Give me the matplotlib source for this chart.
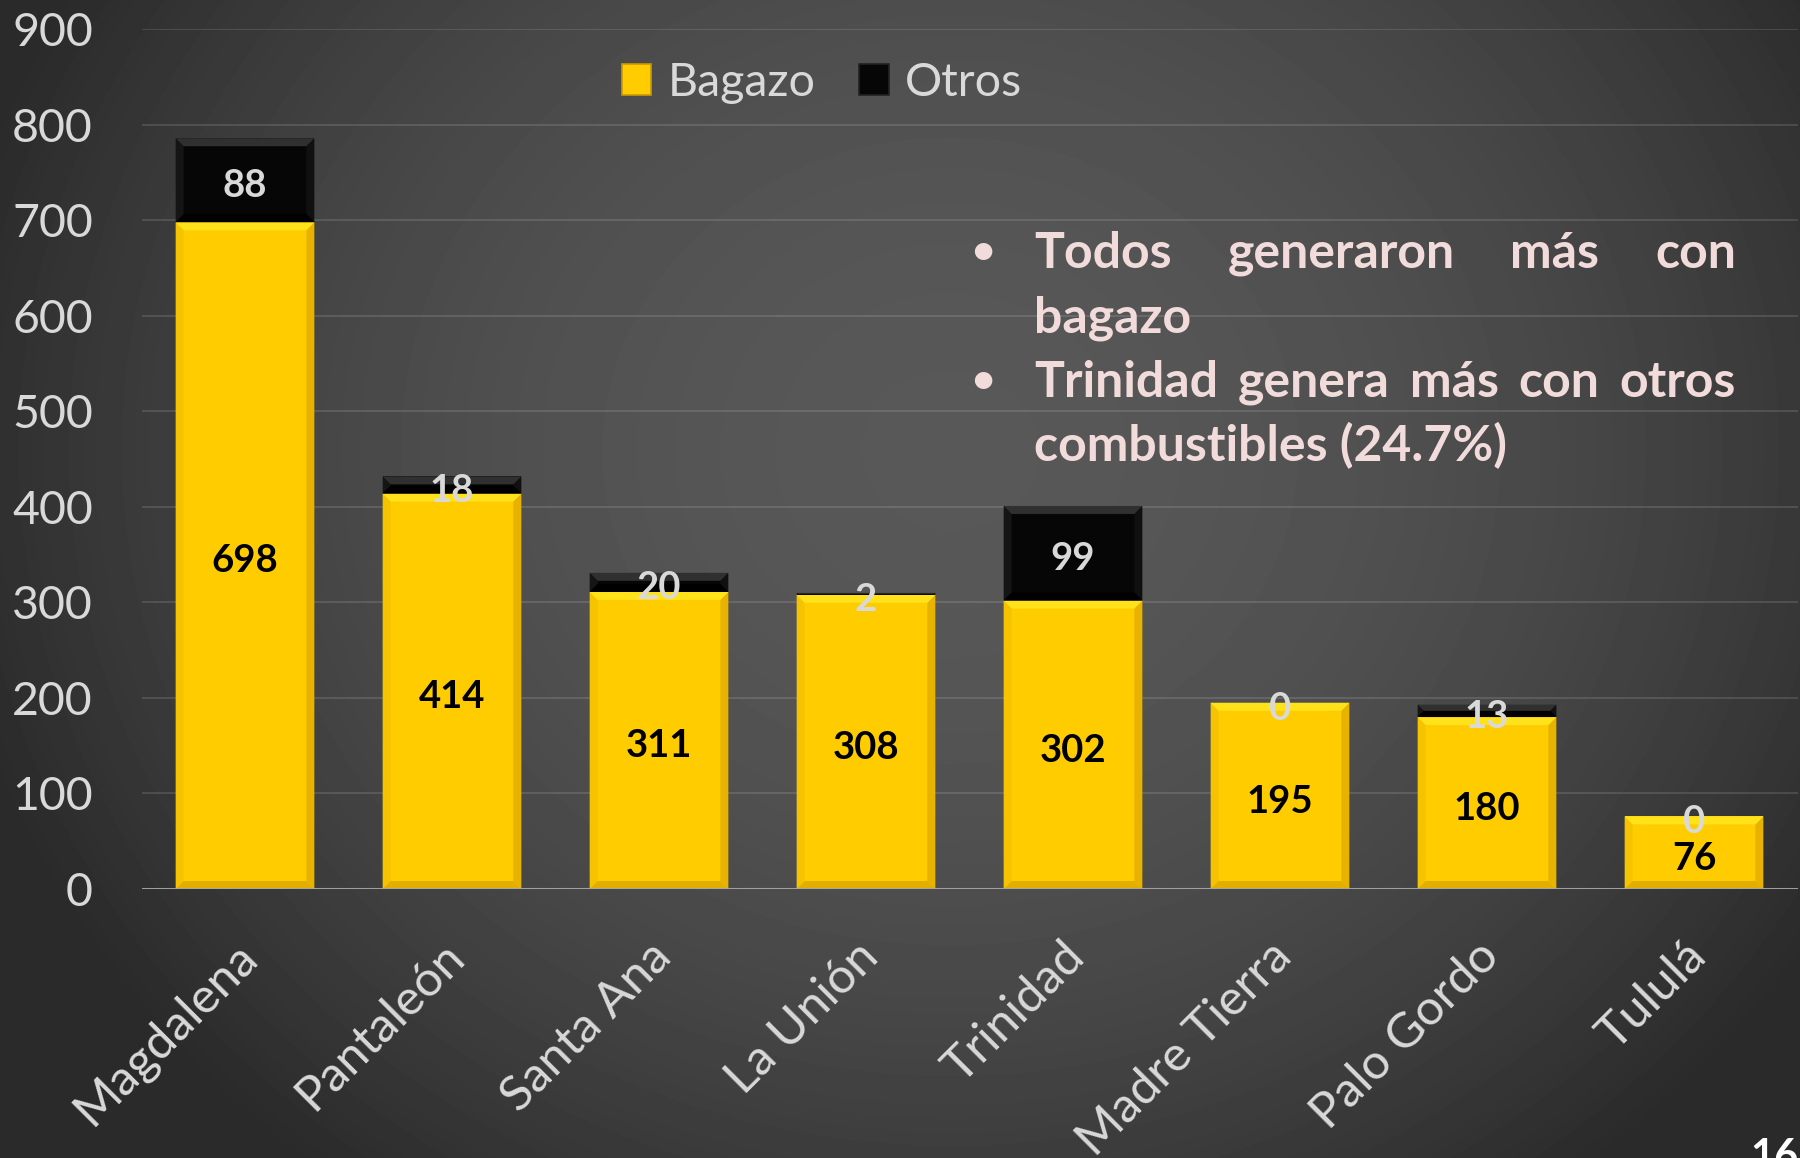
import numpy as np
import matplotlib
matplotlib.use("Agg")
import matplotlib.pyplot as plt
from matplotlib.patches import Polygon
from matplotlib.transforms import offset_copy

# ---------------- data ----------------
categories = ["Magdalena", "Pantaleón", "Santa Ana", "La Unión", "Trinidad",
              "Madre Tierra", "Palo Gordo", "Tululá"]
bagazo = [698, 414, 311, 308, 302, 195, 180, 76]
otros = [88, 18, 20, 2, 99, 0, 13, 0]
series_names = ["Bagazo", "Otros"]
yticks = [0, 100, 200, 300, 400, 500, 600, 700, 800, 900]
note_lines = [
    ("Todos generaron más con", True, True),
    ("bagazo", False, False),
    ("Trinidad genera más con otros", True, True),
    ("combustibles (24.7%)", False, False),
]
page_number = "16"

# ---------------- style ----------------
plt.rcParams['font.family'] = ['Lato', 'DejaVu Sans']
W, H = 1800, 1158
fig = plt.figure(figsize=(W / 100, H / 100), dpi=100)

# background radial gradient
yy, xx = np.mgrid[0:H, 0:W]
r2 = ((xx - 950) / 1000.0) ** 2 + ((yy - 450) / 900.0) ** 2
val = np.clip(88 - 44 * r2, 42, 88) / 255.0
bg = fig.add_axes([0, 0, 1, 1])
bg.imshow(val, cmap='gray', vmin=0, vmax=1, extent=[0, W, H, 0],
          aspect='auto', interpolation='bilinear')
bg.axis('off')

ax_l, ax_r, ax_t, ax_b = 141.5, 1797.5, 29.3, 889.0
ax = fig.add_axes([ax_l / W, 1 - ax_b / H, (ax_r - ax_l) / W, (ax_b - ax_t) / H])
ax.set_zorder(1)
ax.patch.set_alpha(0)
for s in ax.spines.values():
    s.set_visible(False)

n = len(categories)
x = np.arange(n)
bw = 0.67
ax.set_xlim(-0.5, n - 0.5)
ax.set_ylim(0, 900)

YEL, BLK = '#FFCC00', '#060606'
bars1 = ax.bar(x, bagazo, width=bw, color=YEL, zorder=2, label=series_names[0])
bars2 = ax.bar(x, otros, bottom=bagazo, width=bw, color=BLK, zorder=2, label=series_names[1])

# bevel effect
px_per_x = (ax_r - ax_l) / n
px_per_y = (ax_b - ax_t) / 900.0
bev = 8.0
bx0, by0 = bev / px_per_x, bev / px_per_y

def bevel(xc, y0, y1, cols):
    h = y1 - y0
    if h <= 0:
        return
    by = min(by0, h / 2)
    bx = bx0 * by / by0
    x0, x1 = xc - bw / 2, xc + bw / 2
    top = [(x0, y1), (x1, y1), (x1 - bx, y1 - by), (x0 + bx, y1 - by)]
    left = [(x0, y0), (x0, y1), (x0 + bx, y1 - by), (x0 + bx, y0 + by)]
    right = [(x1, y0), (x1, y1), (x1 - bx, y1 - by), (x1 - bx, y0 + by)]
    bot = [(x0, y0), (x1, y0), (x1 - bx, y0 + by), (x0 + bx, y0 + by)]
    for poly, c in zip([left, right, bot, top], cols):
        ax.add_patch(Polygon(poly, closed=True, facecolor=c, edgecolor='none', zorder=2.5))

for i in range(n):
    bevel(x[i], 0, bagazo[i], ['#F6C300', '#E8B300', '#E2AE00', '#FFE21A'])
    bevel(x[i], bagazo[i], bagazo[i] + otros[i], ['#151515', '#101010', '#000000', '#303030'])

# grid & axis
ax.set_yticks(yticks)
ax.yaxis.grid(True, color='white', alpha=0.12, lw=1.5)
ax.set_axisbelow(True)
ax.axhline(0, color='#a8a8a8', lw=2.2, zorder=3, alpha=0.9)

ax.tick_params(axis='y', length=0, pad=35, labelsize=33.5, labelcolor='#d9d9d9')
ax.set_xticks(x)
ax.tick_params(axis='x', length=0, labelbottom=False)

# category labels
cat_tr = offset_copy(ax.get_xaxis_transform(), fig=fig, x=-8, y=-32, units='points')
for i in range(n):
    ax.text(x[i], 0, categories[i], transform=cat_tr, rotation=45, ha='right', va='top',
            rotation_mode='anchor', fontsize=35.5, color='#d9d9d9', clip_on=False)

# data labels (digits centred on the segment)
lab_fs = 27.5
lab_tr = offset_copy(ax.transData, fig=fig, x=0, y=-0.36 * lab_fs - 2.2, units='points')
for i in range(n):
    ax.text(x[i], bagazo[i] / 2, str(bagazo[i]), transform=lab_tr, ha='center', va='baseline',
            fontsize=lab_fs, fontweight='bold', color='black', zorder=5)
    ax.text(x[i], bagazo[i] + otros[i] / 2, str(otros[i]), transform=lab_tr, ha='center',
            va='baseline', fontsize=lab_fs, fontweight='bold', color='#d9d9d9', zorder=5)

# legend
leg = fig.legend(handles=[bars1, bars2], labels=series_names, loc='center',
                 bbox_to_anchor=(822 / W, 1 - 83 / H), ncol=2, frameon=False,
                 handlelength=0.63, handleheight=0.63, handletextpad=0.35,
                 columnspacing=0.94, fontsize=33.5, labelcolor='#d9d9d9', borderpad=0)
for hp, ec in zip(leg.get_patches(), ['#C89A00', '#222222']):
    hp.set_edgecolor(ec)
    hp.set_linewidth(1.2)

# notes (justified)
renderer = fig.canvas.get_renderer()
NOTE_COL = '#F2DCDB'
txt_left, txt_right = 1034.0, 1736.0
bullet_x = 983.0
base0, lstep = 267.5, 64.6

probe = fig.text(0, 0, note_lines[3][0], fontsize=30, fontweight='bold')
wpx = probe.get_window_extent(renderer).width
probe.remove()
note_fs = 30 * 473.0 / wpx

for k, (line, justify, bullet) in enumerate(note_lines):
    yb = base0 + k * lstep
    if bullet:
        fig.text(bullet_x / W, 1 - (yb - 4) / H, "•", ha='center', va='baseline',
                 fontsize=note_fs * 0.8, fontweight='bold', color=NOTE_COL)
    if justify:
        words = line.split()
        ts = [fig.text(0, 1 - yb / H, w_, ha='left', va='baseline', fontsize=note_fs,
                       fontweight='bold', color=NOTE_COL) for w_ in words]
        widths = [t.get_window_extent(renderer).width for t in ts]
        gap = (txt_right - txt_left - sum(widths)) / (len(words) - 1)
        cx = txt_left
        for t, wd in zip(ts, widths):
            t.set_x(cx / W)
            cx += wd + gap
    else:
        fig.text(txt_left / W, 1 - yb / H, line, ha='left', va='baseline',
                 fontsize=note_fs, fontweight='bold', color=NOTE_COL)

fig.text(1750 / W, 1 - 1138 / H, page_number, ha='left', va='top',
         fontsize=30, fontweight='bold', color='white')

fig.savefig('out.png', dpi=100)
